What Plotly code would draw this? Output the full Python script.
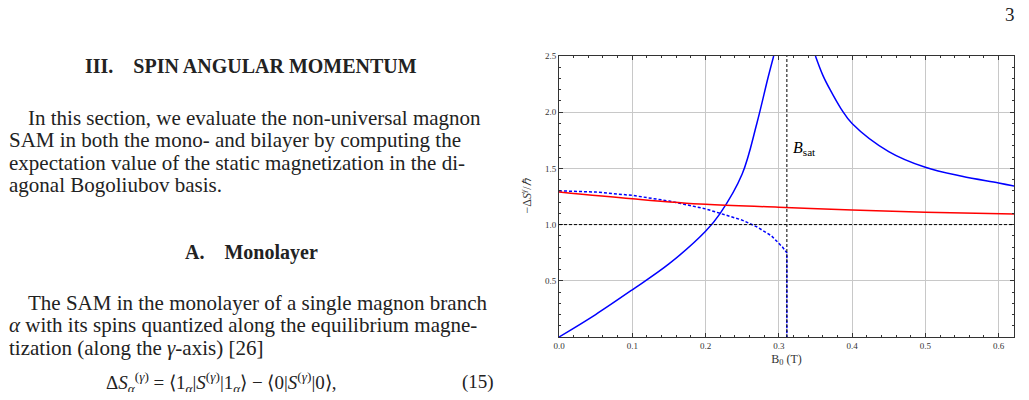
import plotly.graph_objects as go

# data
solid_left_x = [0, 0.05, 0.1, 0.15, 0.2, 0.22, 0.25, 0.27, 0.285, 0.293]
solid_left_y = [0, 0.2, 0.42, 0.65, 0.94, 1.1, 1.45, 1.9, 2.3, 2.5]
solid_right_x = [0.35, 0.36, 0.37, 0.385, 0.4, 0.45, 0.5, 0.55, 0.6, 0.623]
solid_right_y = [2.5, 2.33, 2.2, 2.03, 1.9, 1.65, 1.51, 1.43, 1.37, 1.34]
dotted_x = [0, 0.05, 0.1, 0.15, 0.2, 0.25, 0.27, 0.29, 0.305, 0.311, 0.311]
dotted_y = [1.3, 1.29, 1.26, 1.21, 1.14, 1.04, 0.98, 0.9, 0.8, 0.75, 0]
red_x = [0, 0.1, 0.2, 0.3, 0.4, 0.5, 0.623]
red_y = [1.29, 1.23, 1.18, 1.155, 1.13, 1.11, 1.095]
b_sat = 0.311
x_ticks = [0.0, 0.1, 0.2, 0.3, 0.4, 0.5, 0.6]
y_ticks = [0.5, 1.0, 1.5, 2.0, 2.5]

OFF = 8  # page body margin
W, H = 1013, 384
L, T = 559 - OFF, 56 - OFF
PW, PH = 455, 281
R, B = W - L - PW, H - T - PH

def px(x):
    return (x - OFF - L) / PW

def py(y):
    return 1 - (y - OFF - T) / PH

fig = go.Figure()
fig.add_trace(go.Scatter(x=solid_left_x, y=solid_left_y, mode="lines", line=dict(color="#0000ff", width=1.5, shape="spline")))
fig.add_trace(go.Scatter(x=solid_right_x, y=solid_right_y, mode="lines", line=dict(color="#0000ff", width=1.5, shape="spline")))
fig.add_trace(go.Scatter(x=dotted_x, y=dotted_y, mode="lines", line=dict(color="#0000ff", width=1.5, dash="3px,2px")))
fig.add_trace(go.Scatter(x=red_x, y=red_y, mode="lines", line=dict(color="#ff0000", width=1.5, shape="spline")))
fig.add_hline(y=1.0, line=dict(color="black", width=1, dash="3px,2px"))
fig.add_vline(x=b_sat, line=dict(color="black", width=1, dash="3px,2px"))

serif = "Liberation Serif"
ann = []
ann.append(dict(x=0.316, y=1.68, xref="x", yref="y", text="<i>B</i><sub>sat</sub>", showarrow=False,
                xanchor="left", font=dict(family=serif, size=16, color="black")))

def text(xp, yp, s, size=21, anchor="left", bold=False):
    ann.append(dict(x=px(xp), y=py(yp), xref="paper", yref="paper", text=("<b>%s</b>" % s) if bold else s,
                    showarrow=False, xanchor=anchor, yanchor="middle",
                    font=dict(family=serif, size=size, color="#222")))

text(251, 66, "III.    SPIN ANGULAR MOMENTUM", 20, "center", True)
text(26, 118, "In this section, we evaluate the non-universal magnon")
text(7, 140, "SAM in both the mono- and bilayer by computing the")
text(7, 163, "expectation value of the static magnetization in the di-")
text(7, 185, "agonal Bogoliubov basis.")
text(251, 252, "A.    Monolayer", 20, "center", True)
text(26, 303, "The SAM in the monolayer of a single magnon branch")
text(7, 325, "<i>α</i> with its spins quantized along the equilibrium magne-")
text(7, 348, "tization (along the <i>γ</i>-axis) [26]")
text(104, 382, "Δ<i>S</i><sub><i>α</i></sub><sup>(<i>γ</i>)</sup> = ⟨1<sub><i>α</i></sub>|<i>S</i><sup>(<i>γ</i>)</sup>|1<sub><i>α</i></sub>⟩ − ⟨0|<i>S</i><sup>(<i>γ</i>)</sup>|0⟩,", 19)
text(496, 382, "(15)", 19, "right")
text(1017, 15, "3", 19, "right")

axis_common = dict(showline=True, linecolor="#333", linewidth=1, mirror="ticks", ticks="inside", ticklen=4,
                   tickcolor="#333", showgrid=True, gridcolor="#c8c8c8", gridwidth=1, zeroline=False,
                   tickfont=dict(family=serif, size=9, color="#333"),
                   minor=dict(ticks="inside", ticklen=2, tickcolor="#333", showgrid=False))
fig.update_xaxes(range=[0, 0.621], tickvals=x_ticks, ticktext=["%.1f" % v for v in x_ticks],
                 title=dict(text="B<sub>0</sub> (T)", font=dict(family=serif, size=12, color="#333"), standoff=4),
                 minor_dtick=0.02, **axis_common)
fig.update_yaxes(range=[0, 2.5], tickvals=y_ticks, ticktext=["%.1f" % v for v in y_ticks],
                 title=dict(text="−Δ<i>S</i><sup><i>γ</i></sup>/<i>ℏ</i>", font=dict(family=serif, size=12, color="#333"), standoff=10),
                 minor_dtick=0.1, **axis_common)
fig.update_layout(width=W, height=H, margin=dict(l=L, r=R, t=T, b=B), showlegend=False,
                  plot_bgcolor="white", paper_bgcolor="white", annotations=ann)
fig.write_html("out.html")
